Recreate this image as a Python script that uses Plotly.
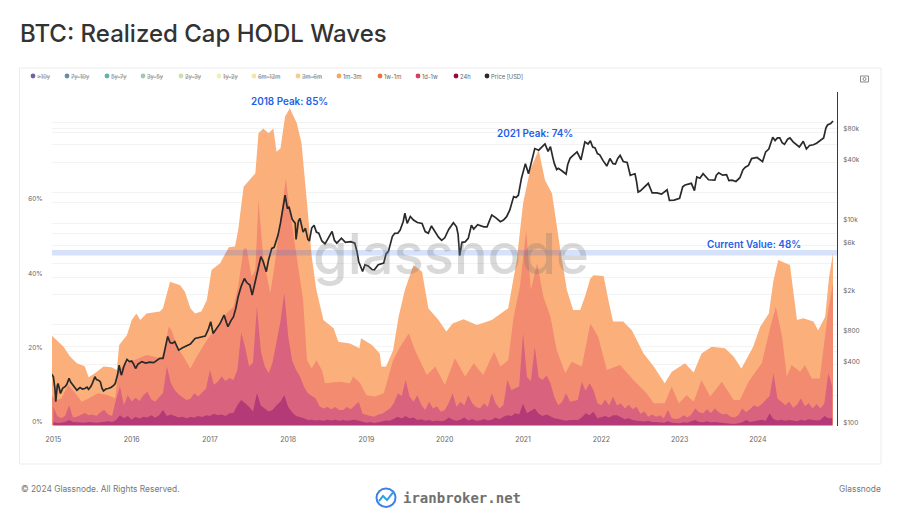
import plotly.graph_objects as go

# DATA ############################################################################################
# each wave is the stacked top of that age band, in % of realized cap

years_1m_3m = [2014.97, 2015.04, 2015.13, 2015.21, 2015.30, 2015.40, 2015.45, 2015.53, 2015.64, 2015.74, 2015.81, 2015.84,
               2015.94, 2016.00, 2016.06, 2016.11, 2016.19, 2016.36, 2016.40, 2016.49, 2016.62, 2016.68, 2016.75, 2016.81,
               2016.89, 2016.96, 2017.02, 2017.13, 2017.24, 2017.32, 2017.36, 2017.43, 2017.53, 2017.58, 2017.62, 2017.68,
               2017.75, 2017.81, 2017.85, 2017.90, 2017.96, 2018.02, 2018.11, 2018.17, 2018.24, 2018.30, 2018.36, 2018.45,
               2018.58, 2018.64, 2018.79, 2018.91, 2018.93, 2019.07, 2019.17, 2019.19, 2019.25, 2019.34, 2019.41, 2019.49,
               2019.60, 2019.71, 2019.79, 2019.92, 2020.02, 2020.10, 2020.24, 2020.41, 2020.60, 2020.81, 2020.92, 2021.00,
               2021.09, 2021.20, 2021.28, 2021.37, 2021.47, 2021.56, 2021.64, 2021.73, 2021.79, 2021.86, 2021.90, 2022.03,
               2022.09, 2022.15, 2022.28, 2022.39, 2022.54, 2022.67, 2022.81, 2022.90, 2023.07, 2023.18, 2023.28, 2023.41,
               2023.58, 2023.69, 2023.79, 2023.94, 2024.03, 2024.14, 2024.20, 2024.26, 2024.41, 2024.50, 2024.58, 2024.71,
               2024.77, 2024.86, 2024.91, 2024.96]
wave_1m_3m = [24.4, 22.9, 21.2, 18.7, 16.8, 16.0, 13.0, 14.1, 15.9, 15.7, 15.0, 21.7,
              24.4, 28.4, 30.2, 28.4, 30.2, 30.7, 31.6, 38.7, 37.8, 36.0, 31.6, 30.2,
              30.7, 33.8, 41.9, 43.7, 48.0, 48.2, 52.6, 64.3, 66.8, 67.9, 78.7, 80.0,
              78.7, 80.0, 73.7, 74.6, 83.2, 85.4, 81.4, 76.0, 60.0, 45.5, 36.5, 28.4,
              26.2, 22.6, 22.1, 20.8, 23.5, 21.7, 19.4, 15.9, 15.9, 20.3, 29.3, 36.5,
              43.2, 41.4, 31.6, 28.4, 25.3, 27.5, 28.6, 27.1, 28.4, 31.6, 44.6, 59.8,
              68.8, 74.2, 66.1, 62.5, 48.2, 36.5, 31.1, 31.1, 34.7, 39.6, 40.5, 40.3,
              33.8, 28.0, 28.0, 25.7, 19.4, 15.9, 11.4, 14.5, 16.8, 14.3, 19.4, 21.2,
              20.8, 18.6, 15.4, 21.2, 26.6, 30.2, 39.2, 44.6, 43.2, 28.4, 28.9, 28.0,
              25.7, 29.3, 40.1, 46.4]

years_1w_1m = [2014.97, 2015.04, 2015.10, 2015.19, 2015.28, 2015.36, 2015.45, 2015.57, 2015.70, 2015.79, 2015.83, 2015.94,
               2016.19, 2016.38, 2016.43, 2016.47, 2016.51, 2016.58, 2016.66, 2016.75, 2016.83, 2016.96, 2017.09, 2017.21,
               2017.30, 2017.36, 2017.43, 2017.47, 2017.53, 2017.58, 2017.62, 2017.68, 2017.77, 2017.83, 2017.92, 2017.97,
               2018.02, 2018.11, 2018.19, 2018.24, 2018.30, 2018.36, 2018.43, 2018.47, 2018.66, 2018.79, 2018.83, 2018.92,
               2019.00, 2019.11, 2019.22, 2019.34, 2019.43, 2019.54, 2019.62, 2019.77, 2019.88, 2020.00, 2020.13, 2020.26,
               2020.37, 2020.49, 2020.63, 2020.71, 2020.81, 2020.88, 2020.96, 2021.04, 2021.10, 2021.18, 2021.26, 2021.35,
               2021.43, 2021.54, 2021.62, 2021.75, 2021.86, 2021.96, 2022.07, 2022.24, 2022.41, 2022.58, 2022.67, 2022.81,
               2022.90, 2022.99, 2023.09, 2023.18, 2023.28, 2023.39, 2023.54, 2023.69, 2023.77, 2023.88, 2024.05, 2024.16,
               2024.23, 2024.31, 2024.37, 2024.43, 2024.54, 2024.60, 2024.69, 2024.79, 2024.90, 2024.96]
wave_1w_1m = [8.2, 6.9, 7.3, 10.9, 8.7, 6.4, 7.3, 8.7, 8.2, 7.3, 15.0, 16.8,
              19.0, 18.1, 21.2, 26.6, 25.7, 21.2, 18.6, 15.4, 18.5, 23.0, 26.6, 30.2,
              32.0, 37.4, 47.7, 47.7, 40.1, 41.9, 60.7, 45.5, 35.6, 43.7, 58.9, 66.6,
              58.0, 45.5, 33.8, 17.6, 15.4, 17.6, 15.0, 11.4, 11.8, 11.4, 13.2, 11.4,
              8.2, 7.8, 8.7, 17.6, 21.2, 24.8, 20.3, 13.6, 15.9, 10.9, 18.1, 13.2,
              16.8, 13.6, 19.9, 15.9, 17.6, 29.3, 37.4, 52.6, 36.5, 43.7, 34.7, 29.3,
              20.3, 14.1, 17.2, 15.9, 27.5, 23.9, 15.0, 16.3, 12.3, 8.7, 6.0, 6.0,
              10.5, 6.0, 8.2, 6.4, 12.3, 7.8, 11.8, 6.9, 6.9, 11.8, 16.8, 26.6,
              32.0, 23.9, 13.2, 16.3, 14.5, 16.3, 12.7, 12.7, 31.1, 38.3]

# the two lower waves share one reading every 0.05 year, 2015.00 to 2024.95
years_lower = [round(2015 + i * 0.05, 2) for i in range(200)]
wave_1d_1w = [5.0, 2.6, 2.0, 2.6, 5.5, 2.2, 2.4, 3.0, 3.4, 2.8, 3.0, 2.6, 3.6, 4.2, 3.0, 2.6, 7.0, 10.5, 5.5, 8.2,
              6.5, 7.5, 6.6, 8.2, 9.1, 7.0, 6.4, 7.6, 8.7, 15.9, 11.5, 9.6, 8.4, 7.6, 6.9, 7.2, 8.7, 7.8, 9.0, 10.0,
              15.0, 11.0, 11.8, 13.2, 12.0, 12.8, 12.3, 15.0, 25.0, 21.0, 15.9, 17.0, 32.0, 20.0, 16.0, 14.1, 17.0, 23.0, 28.0, 35.6,
              24.0, 17.5, 15.0, 13.2, 10.5, 8.7, 8.0, 7.3, 5.2, 4.6, 5.0, 4.4, 5.0, 4.2, 4.2, 5.0, 4.4, 5.4, 6.4, 3.2,
              2.8, 2.6, 2.4, 3.0, 3.2, 3.8, 4.6, 6.0, 8.7, 8.0, 12.3, 7.8, 6.4, 8.2, 5.6, 4.2, 6.4, 4.6, 5.2, 3.7,
              4.2, 6.0, 8.7, 5.1, 6.4, 5.4, 8.2, 6.0, 5.0, 4.6, 6.0, 5.0, 8.7, 6.0, 4.6, 5.6, 12.3, 9.6, 10.0, 10.5,
              24.8, 13.0, 12.0, 21.2, 13.0, 12.3, 13.5, 11.4, 7.6, 5.5, 6.4, 8.7, 6.4, 6.6, 6.9, 11.8, 9.4, 11.4, 9.6, 6.0,
              5.5, 7.0, 5.4, 7.8, 5.4, 6.0, 4.6, 5.6, 4.4, 5.1, 3.2, 3.8, 2.4, 3.0, 2.4, 2.8, 2.0, 4.2, 2.0, 1.8,
              2.0, 2.8, 2.2, 3.0, 4.6, 3.6, 3.3, 4.4, 3.4, 4.6, 3.6, 3.0, 3.2, 2.4, 2.2, 2.8, 4.6, 3.6, 4.4, 5.5,
              5.0, 5.8, 6.9, 8.0, 14.1, 7.3, 6.4, 5.5, 6.4, 4.8, 5.6, 7.3, 5.2, 6.0, 4.6, 5.8, 4.6, 6.0, 14.1, 10.5]
wave_24h = [1.0, 0.7, 0.8, 1.0, 1.5, 1.0, 0.9, 0.8, 0.8, 1.0, 0.8, 0.8, 0.9, 1.0, 1.2, 1.0, 1.5, 2.8, 2.0, 2.6,
            1.6, 2.4, 1.9, 2.4, 2.2, 2.8, 2.1, 2.8, 4.2, 2.6, 3.0, 2.6, 2.2, 2.4, 2.0, 2.3, 2.2, 2.6, 2.3, 2.8,
            2.6, 3.2, 2.8, 3.0, 2.6, 3.3, 3.4, 5.5, 6.9, 6.0, 5.1, 3.8, 8.7, 5.4, 4.6, 3.8, 4.2, 5.5, 6.4, 8.2,
            5.0, 3.6, 2.6, 2.4, 2.0, 1.5, 1.6, 1.4, 1.5, 1.3, 1.6, 1.4, 1.6, 1.3, 1.5, 1.3, 1.4, 1.6, 1.3, 1.0,
            0.8, 1.0, 0.7, 0.9, 1.1, 1.4, 1.3, 1.8, 2.4, 1.9, 2.6, 1.9, 2.2, 1.5, 1.7, 1.3, 1.5, 1.2, 1.4, 1.2,
            1.4, 2.2, 1.6, 1.3, 1.6, 2.2, 1.4, 1.8, 1.3, 1.4, 1.8, 1.4, 1.6, 2.2, 1.7, 2.4, 2.8, 2.6, 3.3, 3.0,
            5.9, 3.3, 3.9, 4.6, 3.2, 2.6, 3.0, 2.4, 2.0, 1.8, 1.6, 1.3, 1.5, 1.6, 1.5, 2.2, 3.3, 2.8, 3.7, 2.0,
            2.2, 2.6, 2.2, 2.8, 2.8, 2.2, 1.7, 2.0, 1.5, 1.3, 1.2, 1.1, 1.3, 1.0, 1.0, 0.9, 0.8, 1.2, 0.8, 0.7,
            0.6, 0.9, 0.8, 1.2, 1.5, 1.0, 0.9, 1.2, 0.9, 1.0, 0.8, 0.7, 0.6, 0.5, 0.4, 0.6, 0.9, 1.5, 1.0, 1.2,
            1.3, 1.6, 1.3, 3.3, 1.7, 1.4, 1.6, 1.3, 1.5, 1.3, 1.2, 1.6, 1.3, 1.7, 1.5, 1.4, 1.5, 2.6, 2.0, 2.0]

years_price = [2014.97, 2015.00, 2015.02, 2015.03, 2015.05, 2015.06, 2015.08, 2015.09, 2015.12, 2015.15, 2015.17, 2015.20,
               2015.22, 2015.25, 2015.28, 2015.30, 2015.34, 2015.37, 2015.40, 2015.43, 2015.45, 2015.48, 2015.50, 2015.53,
               2015.55, 2015.58, 2015.60, 2015.62, 2015.64, 2015.67, 2015.70, 2015.74, 2015.77, 2015.79, 2015.82, 2015.84,
               2015.86, 2015.87, 2015.90, 2015.94, 2015.97, 2016.00, 2016.02, 2016.05, 2016.08, 2016.13, 2016.18, 2016.23,
               2016.28, 2016.33, 2016.36, 2016.40, 2016.43, 2016.46, 2016.49, 2016.52, 2016.55, 2016.58, 2016.60, 2016.65,
               2016.70, 2016.75, 2016.81, 2016.87, 2016.94, 2016.98, 2017.01, 2017.04, 2017.08, 2017.13, 2017.16, 2017.18,
               2017.21, 2017.23, 2017.27, 2017.30, 2017.33, 2017.36, 2017.40, 2017.44, 2017.47, 2017.51, 2017.54, 2017.58,
               2017.61, 2017.65, 2017.68, 2017.72, 2017.75, 2017.79, 2017.82, 2017.87, 2017.90, 2017.92, 2017.96, 2017.99,
               2018.01, 2018.05, 2018.09, 2018.10, 2018.13, 2018.15, 2018.19, 2018.22, 2018.25, 2018.27, 2018.30, 2018.33,
               2018.36, 2018.39, 2018.43, 2018.47, 2018.52, 2018.56, 2018.59, 2018.62, 2018.68, 2018.73, 2018.80, 2018.85,
               2018.88, 2018.90, 2018.95, 2018.98, 2019.02, 2019.07, 2019.10, 2019.15, 2019.22, 2019.25, 2019.28, 2019.33,
               2019.36, 2019.40, 2019.43, 2019.47, 2019.49, 2019.52, 2019.56, 2019.60, 2019.65, 2019.71, 2019.75, 2019.79,
               2019.83, 2019.87, 2019.92, 2019.96, 2020.00, 2020.05, 2020.11, 2020.15, 2020.17, 2020.19, 2020.22, 2020.26,
               2020.30, 2020.34, 2020.37, 2020.42, 2020.50, 2020.54, 2020.58, 2020.60, 2020.65, 2020.71, 2020.75, 2020.79,
               2020.83, 2020.88, 2020.91, 2020.94, 2020.98, 2021.03, 2021.07, 2021.10, 2021.15, 2021.20, 2021.24, 2021.28,
               2021.32, 2021.35, 2021.38, 2021.40, 2021.43, 2021.45, 2021.50, 2021.55, 2021.57, 2021.60, 2021.64, 2021.69,
               2021.74, 2021.76, 2021.79, 2021.83, 2021.86, 2021.89, 2021.92, 2021.95, 2021.98, 2022.02, 2022.07, 2022.11,
               2022.15, 2022.18, 2022.21, 2022.24, 2022.28, 2022.33, 2022.37, 2022.40, 2022.43, 2022.45, 2022.47, 2022.50,
               2022.55, 2022.60, 2022.65, 2022.71, 2022.77, 2022.84, 2022.87, 2022.93, 2023.00, 2023.04, 2023.07, 2023.15,
               2023.19, 2023.22, 2023.26, 2023.30, 2023.37, 2023.45, 2023.47, 2023.50, 2023.55, 2023.60, 2023.63, 2023.67,
               2023.72, 2023.77, 2023.81, 2023.84, 2023.88, 2023.92, 2023.99, 2024.03, 2024.06, 2024.10, 2024.14, 2024.19,
               2024.22, 2024.25, 2024.28, 2024.31, 2024.34, 2024.38, 2024.41, 2024.45, 2024.50, 2024.53, 2024.58, 2024.62,
               2024.66, 2024.71, 2024.75, 2024.79, 2024.84, 2024.87, 2024.89, 2024.93, 2024.96]
price_usd = [328, 304, 230, 172, 250, 261, 225, 208, 235, 243, 255, 293,
             270, 252, 240, 224, 238, 230, 233, 240, 228, 245, 265, 304,
             285, 280, 271, 235, 220, 230, 233, 240, 250, 261, 320, 397,
             330, 316, 385, 451, 430, 435, 412, 367, 405, 429, 415, 425,
             420, 450, 463, 463, 590, 760, 663, 650, 678, 600, 558, 590,
             612, 640, 728, 745, 768, 900, 1065, 816, 910, 1025, 1150, 1240,
             1050, 950, 1100, 1190, 1450, 1880, 2400, 2850, 2600, 2455, 1955, 2745,
             3300, 4680, 4200, 3330, 4400, 5660, 5800, 7670, 10000, 12500, 19000, 14000,
             14600, 11000, 10000, 6950, 10500, 11200, 8200, 8940, 7000, 6700, 9000, 9600,
             8200, 8000, 6700, 6280, 7400, 8330, 6800, 6380, 7150, 6500, 6600, 6380,
             5200, 4200, 3340, 3900, 3800, 3500, 3470, 3900, 4040, 5000, 5290, 7400,
             7970, 8000, 8600, 10500, 12600, 10000, 11700, 10800, 10200, 10000, 8300, 7970,
             9440, 8400, 7300, 6800, 7200, 8700, 10150, 9250, 7800, 4810, 6500, 6560,
             7100, 9600, 8800, 9700, 9250, 9250, 11200, 12100, 11400, 10400, 10800, 11650,
             13500, 18400, 18000, 19000, 28000, 39000, 31000, 38000, 55000, 53000, 57000, 61000,
             51500, 57500, 45000, 39000, 34000, 35000, 33000, 30700, 38000, 44000, 47000, 51000,
             42500, 52000, 64000, 61000, 65500, 57000, 55800, 49000, 47700, 42000, 36900, 43800,
             39000, 38700, 44000, 47100, 41000, 40100, 29900, 30500, 31000, 26000, 20400, 21000,
             23000, 24900, 20000, 20000, 19500, 21500, 16900, 17000, 17700, 23000, 24000, 24900,
             21100, 28800, 28000, 31000, 27000, 26800, 30000, 31700, 30000, 30400, 26500, 26800,
             26000, 28300, 34000, 36000, 37500, 43800, 44900, 42000, 40800, 51000, 54300, 71000,
             66000, 70000, 70000, 63000, 60500, 68000, 70000, 64000, 60000, 57000, 65000, 54500,
             59000, 60000, 62000, 66000, 70000, 88000, 94000, 97000, 103000]

year_ticks = list(range(2015, 2025))
pct_ticks = [0, 20, 40, 60]
pct_grid = [0, 20, 40, 60, 80]
usd_ticks = [100, 400, 800, 2000, 6000, 10000, 40000, 80000]
usd_tick_labels = ['$100', '$400', '$800', '$2k', '$6k', '$10k', '$40k', '$80k']
usd_grid = [100, 200, 400, 600, 800, 1000, 2000, 4000, 6000, 8000, 10000, 20000, 40000, 60000, 80000, 100000]

current_band = [45.8, 47.3]

legend_names = ['>10y', '7y-10y', '5y-7y', '3y-5y', '2y-3y', '1y-2y', '6m-12m', '3m-6m', '1m-3m', '1w-1m', '1d-1w', '24h',
                'Price [USD]']
legend_colors = ['#4a3f8c', '#3f7199', '#3f9c93', '#86bd9f', '#bcd89c', '#e8ecaa', '#efdf9b', '#ecc66f', '#f6a55f',
                 '#ee6f45', '#d1405f', '#97073f', '#2a2a2a']
legend_hidden = [True] * 8 + [False] * 5
legend_x_px = [33, 67, 107, 143, 181, 219, 254, 298, 339, 380, 418, 456, 487]

# STYLE ############################################################################################

FONT = 'Inter'
BLUE = '#1f5fe8'
WIDTH, HEIGHT = 900, 518


def px_x(x):
    return x / WIDTH


def px_y(y):
    return 1 - y / HEIGHT


fig = go.Figure()

# back to front, each wave filled down to zero
wave_list = [(years_1m_3m, wave_1m_3m, '#fbb07b', '1m-3m'),
             (years_1w_1m, wave_1w_1m, '#f28b6f', '1w-1m'),
             (years_lower, wave_1d_1w, '#d9627f', '1d-1w'),
             (years_lower, wave_24h, '#b33a76', '24h')]
for x_values, y_values, color, name in wave_list:
    fig.add_trace(go.Scatter(x=x_values, y=y_values, name=name, mode='lines', fill='tozeroy', fillcolor=color,
                             line=dict(width=0, color=color), xaxis='x', yaxis='y', showlegend=False))

fig.add_trace(go.Scatter(x=years_price, y=price_usd, name='Price [USD]', mode='lines', xaxis='x', yaxis='y2',
                         line=dict(color='#2a2a2a', width=1.7), showlegend=False))

# dummy traces so the label-only axes get drawn
fig.add_trace(go.Scatter(x=[], y=[], xaxis='x', yaxis='y3', showlegend=False))
fig.add_trace(go.Scatter(x=[], y=[], xaxis='x', yaxis='y4', showlegend=False))

pct_font = dict(family=FONT, size=6.5, color='#666666')
usd_font = dict(family=FONT, size=6.5, color='#666666')
year_font = dict(family=FONT, size=7, color='#666666')
domain_y = [px_y(425.6), px_y(92)]

fig.update_layout(
    width=WIDTH, height=HEIGHT, margin=dict(l=0, r=0, t=0, b=0, autoexpand=False),
    paper_bgcolor='white', plot_bgcolor='white', showlegend=False,
    title=dict(text='BTC: Realized Cap HODL Waves', x=px_x(20), xanchor='left', y=px_y(34), yanchor='middle',
               font=dict(family=FONT, size=24, color='#333333', weight=500)),
    xaxis=dict(domain=[px_x(52), px_x(837)], range=[2014.982, 2025.011], tickvals=year_ticks, showgrid=False,
               zeroline=False, ticks='outside', ticklen=7, tickcolor='rgba(0,0,0,0)', tickfont=year_font),
    yaxis=dict(domain=domain_y, range=[0, 89.8], tickvals=pct_grid, showticklabels=False, gridcolor='#f3f3f3',
               gridwidth=1, zeroline=False),
    yaxis2=dict(domain=domain_y, type='log', range=[2, 5.2997], overlaying='y', side='right', anchor='x',
                tickvals=usd_grid, showticklabels=False, gridcolor='#f3f3f3', gridwidth=1, showline=True,
                linecolor='#3a3a3a', linewidth=1, zeroline=False),
    # label axes sit a few pixels higher than the data axes, as in the glassnode chart
    yaxis3=dict(domain=domain_y, range=[-0.97, 88.83], overlaying='y', side='left', anchor='x',
                tickvals=pct_ticks, ticktext=[f'{t}%' for t in pct_ticks], showgrid=False, zeroline=False,
                ticks='outside', ticklen=7, tickcolor='rgba(0,0,0,0)', tickfont=pct_font),
    yaxis4=dict(domain=domain_y, type='log', range=[1.967, 5.267], overlaying='y', side='right', anchor='x',
                tickvals=usd_ticks, ticktext=usd_tick_labels, showgrid=False, zeroline=False,
                ticks='outside', ticklen=4, tickcolor='rgba(0,0,0,0)', tickfont=usd_font),
)

shapes = []
annotations = []


def add_text(text, x, y, size, color, anchor='left', weight=400, family=FONT):
    annotations.append(dict(text=text, x=px_x(x), y=px_y(y), xref='paper', yref='paper', showarrow=False,
                            xanchor=anchor, yanchor='middle',
                            font=dict(family=family, size=size, color=color, weight=weight)))


# card
shapes.append(dict(type='rect', xref='paper', yref='paper', x0=px_x(19.5), x1=px_x(881), y0=px_y(464), y1=px_y(68),
                   line=dict(color='#ececec', width=1), layer='below'))

# current value band
shapes.append(dict(type='rect', xref='x domain', yref='y', x0=0, x1=1, y0=current_band[0], y1=current_band[1],
                   fillcolor='rgba(50,105,240,0.2)', line=dict(width=0), layer='above'))

# legend
for name, color, hidden, x in zip(legend_names, legend_colors, legend_hidden, legend_x_px):
    r = 2.4
    shapes.append(dict(type='circle', xref='paper', yref='paper', x0=px_x(x - r), x1=px_x(x + r), y0=px_y(76 + r),
                       y1=px_y(76 - r), fillcolor=color, line=dict(width=0), opacity=0.8 if hidden else 1))
    if hidden:
        add_text(f'<span style="text-decoration:line-through">{name}</span>', x + 2, 76, 5.8, '#8a8a8a')
    else:
        add_text(name, x + 2, 76, 5.8, '#666666')

# camera icon
shapes.append(dict(type='rect', xref='paper', yref='paper', x0=px_x(860.5), x1=px_x(868.5), y0=px_y(82), y1=px_y(76),
                   line=dict(color='#8a8a8a', width=1)))
shapes.append(dict(type='circle', xref='paper', yref='paper', x0=px_x(863), x1=px_x(866), y0=px_y(80.5), y1=px_y(77.5),
                   line=dict(color='#8a8a8a', width=1)))

# watermark and callouts
add_text('glassnode', 450.5, 254, 56, 'rgba(115,115,115,0.27)', anchor='center', weight=500)
add_text('2018 Peak: 85%', 289, 100.5, 9.9, BLUE, anchor='center', weight=600)
add_text('2021 Peak: 74%', 534.5, 133, 9.9, BLUE, anchor='center', weight=600)
add_text('Current Value: 48%', 753.5, 244, 9.9, BLUE, anchor='center', weight=600)

# footer
add_text('© 2024 Glassnode. All Rights Reserved.', 18.5, 489, 8.4, '#777777')
add_text('Glassnode', 882.5, 489, 8.4, '#777777', anchor='right')
add_text('iranbroker.net', 401, 498, 14, '#707070', weight=700, family='DejaVu Sans Mono')

# logo mark
shapes.append(dict(type='circle', xref='paper', yref='paper', x0=px_x(376.5), x1=px_x(395.5), y0=px_y(507), y1=px_y(488.5),
                   line=dict(color='#3f7fe6', width=2)))
shapes.append(dict(type='path', xref='paper', yref='paper', line=dict(color='#2f9fe0', width=2),
                   path=' '.join(f'{c} {px_x(a):.4f},{px_y(b):.4f}' for c, a, b in
                                 [('M', 379, 501), ('L', 383, 496), ('L', 387, 500), ('L', 394, 491)])))

fig.update_layout(shapes=shapes, annotations=annotations)

fig.write_html("out.html", post_script="document.body.style.margin='0';", config=dict(displayModeBar=False))
